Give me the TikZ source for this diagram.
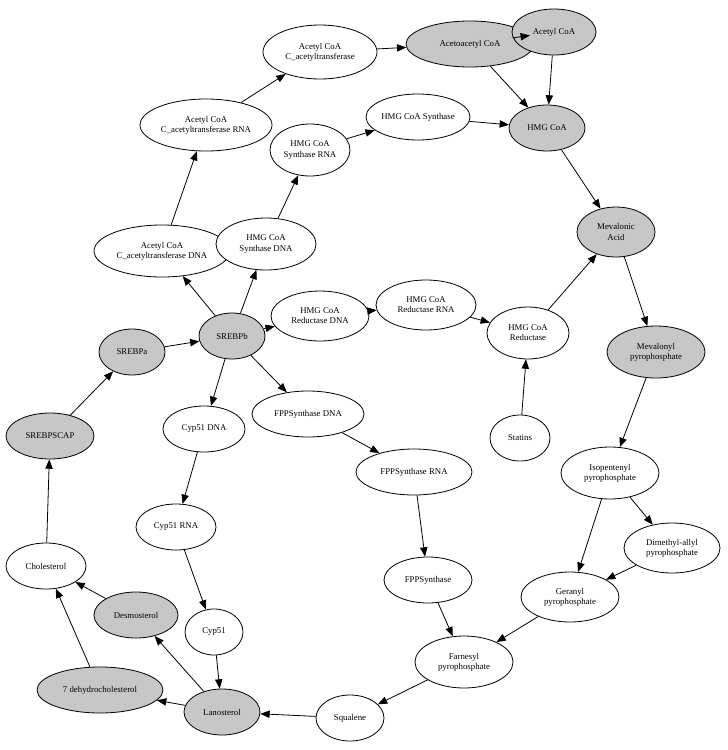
\documentclass[tikz,border=0pt]{standalone}
\usepackage{fontspec}
\setmainfont{Liberation Serif}
\usetikzlibrary{shapes.geometric,arrows.meta}
\begin{document}
\begin{tikzpicture}[x=0.75pt,y=-0.75pt,
 n/.style={ellipse,draw,line width=0.6pt,inner sep=0pt,align=center,font=\fontsize{6.6}{7.6}\selectfont,fill=white},
 g/.style={n,fill=black!22},
 e/.style={-{Triangle[length=7pt,width=5.5pt]},line width=0.6pt}]
\useasboundingbox (0,0) rectangle (728,750);
\def\N#1#2#3#4#5#6#7{\node[#1,minimum width=#5*0.75pt,minimum height=#6*0.75pt] (#2) at (#3,#4) {#7};}
\N{g}{aacoa}{470}{44}{128}{46}{Acetoacetyl CoA}
\N{g}{acoa}{554}{32}{84}{46}{Acetyl CoA}
\N{n}{acat}{320}{52}{114}{54}{Acetyl CoA\\C\_acetyltransferase}
\N{g}{hmg}{547}{128}{76}{46}{HMG CoA}
\N{n}{hmgs}{418}{117}{104}{46}{HMG CoA Synthase}
\N{n}{acatr}{206}{125}{132}{52}{Acetyl CoA\\C\_acetyltransferase RNA}
\N{n}{hmgsr}{310}{150}{80}{52}{HMG CoA\\Synthase RNA}
\N{g}{mev}{616}{232}{78}{50}{Mevalonic\\Acid}
\N{n}{acatd}{162}{251}{136}{52}{Acetyl CoA\\C\_acetyltransferase DNA}
\N{n}{hmgsd}{266}{244}{100}{52}{HMG CoA\\Synthase DNA}
\N{n}{hmgrd}{320}{316}{98}{50}{HMG CoA\\Reductase DNA}
\N{n}{hmgrr}{426}{305}{100}{50}{HMG CoA\\Reductase RNA}
\N{n}{hmgr}{528}{333}{82}{52}{HMG CoA\\Reductase}
\N{g}{sb}{232}{336}{66}{46}{SREBPb}
\N{g}{sa}{132}{352}{66}{46}{SREBPa}
\N{g}{mpp}{656}{352}{98}{52}{Mevalonyl\\pyrophosphate}
\N{g}{scap}{50}{436}{88}{46}{SREBPSCAP}
\N{n}{cd}{204}{429}{82}{46}{Cyp51 DNA}
\N{n}{fd}{308}{414}{112}{46}{FPPSynthase DNA}
\N{n}{stat}{520}{438}{60}{46}{Statins}
\N{n}{fr}{414}{472}{116}{46}{FPPSynthase RNA}
\N{n}{ipp}{610}{473}{98}{52}{Isopentenyl\\pyrophosphate}
\N{n}{cr}{176}{527}{80}{46}{Cyp51 RNA}
\N{n}{chol}{46}{566}{80}{46}{Cholesterol}
\N{n}{dma}{672}{548}{96}{50}{Dimethyl-allyl\\pyrophosphate}
\N{n}{fs}{428}{580}{88}{46}{FPPSynthase}
\N{n}{ger}{570}{597}{98}{50}{Geranyl\\pyrophosphate}
\N{g}{desm}{136}{615}{84}{46}{Desmosterol}
\N{n}{cyp}{214}{632}{58}{46}{Cyp51}
\N{n}{far}{464}{662}{98}{52}{Farnesyl\\pyrophosphate}
\N{g}{dhc}{100}{690}{126}{46}{7 dehydrocholesterol}
\N{g}{lan}{222}{712}{76}{46}{Lanosterol}
\N{n}{sq}{350}{718}{68}{46}{Squalene}
\foreach \a/\b in {acat/aacoa,acoa/aacoa,acoa/hmg,aacoa/hmg,hmgs/hmg,hmg/mev,acatr/acat,hmgsr/hmgs,acatd/acatr,hmgsd/hmgsr,sb/acatd,sb/hmgsd,sb/hmgrd,sb/cd,sb/fd,hmgrd/hmgrr,hmgrr/hmgr,hmgr/mev,stat/hmgr,mev/mpp,mpp/ipp,ipp/dma,ipp/ger,dma/ger,ger/far,fd/fr,fr/fs,fs/far,far/sq,sq/lan,cd/cr,cr/cyp,cyp/lan,lan/desm,lan/dhc,desm/chol,dhc/chol,chol/scap,scap/sa,sa/sb}
 \draw[e] (\a) -- (\b);
\end{tikzpicture}
\end{document}
